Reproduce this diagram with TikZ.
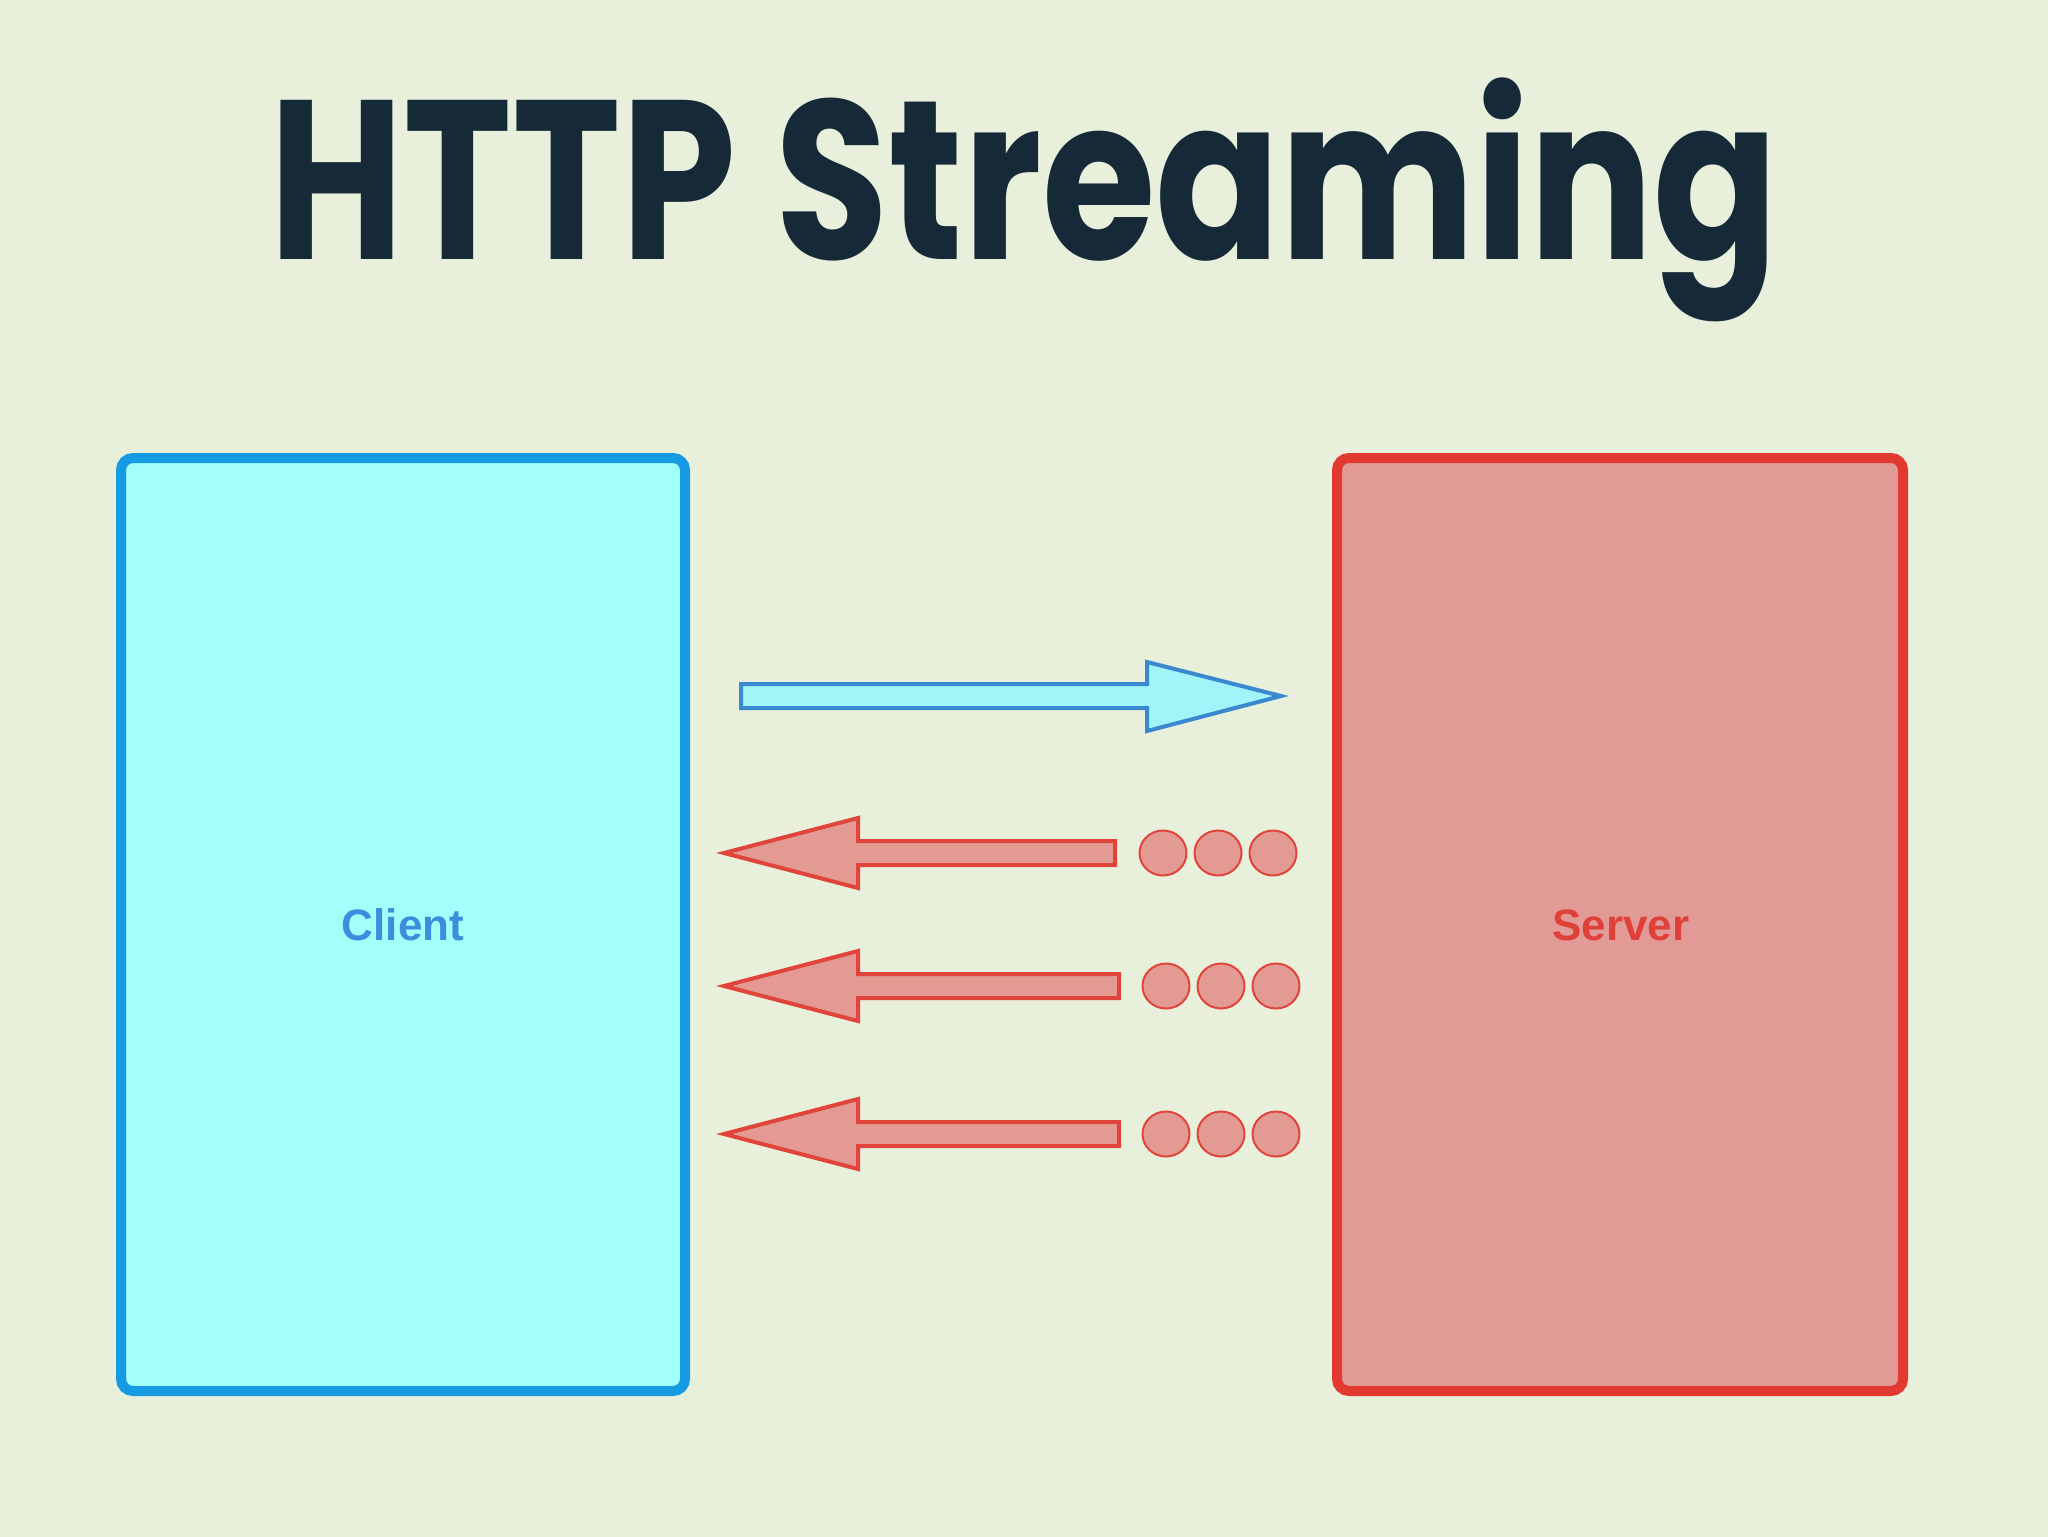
\documentclass[tikz,border=0pt]{standalone}
\usepackage{fontspec}
\usepackage{graphicx}
\newfontfamily\titlefont{Poppins}
\newfontfamily\labelfont{Liberation Sans}
\definecolor{bgc}{RGB}{232,240,220}
\definecolor{titlec}{RGB}{22,41,56}
\definecolor{clientfill}{RGB}{162,255,250}
\definecolor{clientline}{RGB}{22,155,226}
\definecolor{clienttext}{RGB}{58,143,221}
\definecolor{serverfill}{RGB}{226,154,150}
\definecolor{serverline}{RGB}{226,58,48}
\definecolor{servertext}{RGB}{224,64,58}
\definecolor{barrowfill}{RGB}{160,245,248}
\definecolor{barrowline}{RGB}{58,136,208}
\definecolor{rarrowfill}{RGB}{226,154,147}
\definecolor{rarrowline}{RGB}{224,68,58}
\tikzset{
  bigbox/.style={line width=5pt, rounded corners=6pt},
  blockarrowblue/.style={fill=barrowfill, draw=barrowline, line width=2pt, line join=miter},
  blockarrowred/.style={fill=rarrowfill, draw=rarrowline, line width=2pt, line join=miter},
  dot/.style={ellipse, draw=rarrowline, fill=rarrowfill, line width=1pt, minimum width=23.5pt, minimum height=22.5pt, inner sep=0pt},
  lbl/.style={font=\labelfont\bfseries\fontsize{22}{26}\selectfont}
}
\usetikzlibrary{shapes.geometric}
\begin{document}
\begin{tikzpicture}[x=0.5pt,y=-0.5pt]
\useasboundingbox (0,0) rectangle (2048,1536);
\fill[bgc] (-2,-2) rectangle (2050,1538);
% title
\node[text=titlec, inner sep=0pt] (title) at (1024,200) {\resizebox*{754pt}{122pt}{\titlefont\bfseries HTTP Streaming}};
% boxes
\draw[bigbox, draw=clientline, fill=clientfill] (121,458) rectangle (685,1391);
\node[lbl, text=clienttext] (client) at (403,925) {Client};
\draw[bigbox, draw=serverline, fill=serverfill] (1337,458) rectangle (1903,1391);
\node[lbl, text=servertext] (server) at (1621,925) {Server};
% request arrow
\draw[blockarrowblue] (741,684) -- (1147,684) -- (1147,662) -- (1281,696) -- (1147,731) -- (1147,708) -- (741,708) -- cycle;
% response arrows
\foreach \y/\tail in {853/1115, 986/1119, 1134/1119} {
  \draw[blockarrowred] (\tail,\y-12) -- (858,\y-12) -- (858,\y-35) -- (724,\y) -- (858,\y+35) -- (858,\y+12) -- (\tail,\y+12) -- cycle;
}
\node[dot] (d11) at (1163,853) {};
\node[dot] (d12) at (1218,853) {};
\node[dot] (d13) at (1273,853) {};
\node[dot] (d21) at (1166,986) {};
\node[dot] (d22) at (1221,986) {};
\node[dot] (d23) at (1276,986) {};
\node[dot] (d31) at (1166,1134) {};
\node[dot] (d32) at (1221,1134) {};
\node[dot] (d33) at (1276,1134) {};
\end{tikzpicture}
\end{document}
